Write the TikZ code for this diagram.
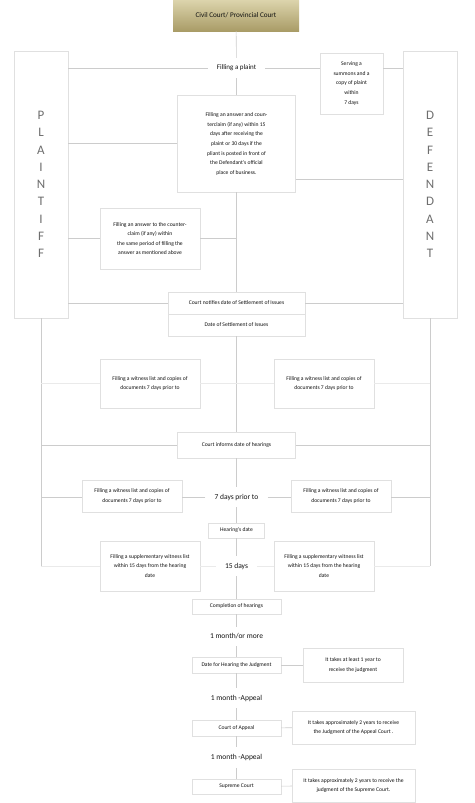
\documentclass[tikz,border=0pt]{standalone}
\usepackage{fontspec}
\setmainfont{Carlito}
\usetikzlibrary{positioning}
\definecolor{linegrey}{HTML}{CCCCCC}
\definecolor{boxgrey}{HTML}{E0E0E0}
\definecolor{faintgrey}{HTML}{EAEAEA}
\definecolor{goldtop}{HTML}{DCD4AC}
\definecolor{goldbottom}{HTML}{A99C67}
\definecolor{textgrey}{HTML}{111111}
\definecolor{lettergrey}{HTML}{6E6E6E}

\begin{document}
\begin{tikzpicture}[x=1pt, y=-1pt,
  stepbox/.style={rectangle, draw=boxgrey, fill=white, align=center, inner sep=1pt, text=textgrey, font=\fontsize{5.6}{9.6}\selectfont},
  gaptext/.style={rectangle, align=center, inner xsep=9pt, inner ysep=7pt, text=textgrey, font=\fontsize{7.5}{9}\selectfont},
  party/.style={rectangle, draw=boxgrey, fill=white, align=center, text=lettergrey, font=\fontsize{13}{17.3}\selectfont},
  link/.style={draw=linegrey, line width=0.6pt},
  faintlink/.style={draw=faintgrey, line width=0.6pt}]
\useasboundingbox (0,0) rectangle (474,803);

\node[stepbox, minimum width=126pt, minimum height=31pt, draw=none, top color=goldtop, bottom color=goldbottom, font=\fontsize{7.2}{9}\selectfont] (civil) at (236,15.5) {Civil Court/ Provincial Court};
\node[party, minimum width=54pt, minimum height=267pt] (plaintiff) at (41,184.5) {P\\L\\A\\I\\N\\T\\I\\F\\F};
\node[party, minimum width=54pt, minimum height=267pt] (defendant) at (430,184.5) {D\\E\\F\\E\\N\\D\\A\\N\\T};

\node[gaptext, font=\fontsize{7}{9}\selectfont] (plaint) at (236.5,68) {Filling a plaint};
\node[stepbox, minimum width=63pt, minimum height=61pt] (summons) at (351.5,83.5) {Serving a\\summons and a\\copy of plaint\\within\\7 days};
\node[stepbox, minimum width=118pt, minimum height=97pt] (answer) at (236.5,143.5) {\raisebox{-6pt}{\begin{tabular}{@{}c@{}}Filling an answer and coun-\\terclaim (if any) within 15\\days after receiving the\\plaint or 30 days if the\\pliant is posted in front of\\the Defendant's official\\place of business.\end{tabular}}};
\node[stepbox, minimum width=100pt, minimum height=61pt] (counter) at (150,238.5) {Filling an answer to the counter-\\claim (if any) within\\the same period of filling the\\answer as mentioned above};
\node[stepbox, minimum width=137pt, minimum height=22pt] (notify) at (236.5,303) {Court notifies date of Settlement of Issues};
\node[stepbox, minimum width=137pt, minimum height=22pt] (settle) at (236.5,325) {Date of Settlement of Issues};

\node[stepbox, minimum width=100pt, minimum height=49pt] (witnessleft) at (150,383.5) {Filling a witness list and copies of\\documents 7 days prior to};
\node[stepbox, minimum width=100pt, minimum height=49pt] (witnessright) at (324,383.5) {Filling a witness list and copies of\\documents 7 days prior to};
\node[stepbox, minimum width=118pt, minimum height=26pt] (inform) at (236.5,445) {Court informs date of hearings};

\node[gaptext] (prior) at (236.5,497) {7 days prior to};
\node[stepbox, minimum width=100pt, minimum height=32pt] (listleft) at (132,496) {Filling a witness list and copies of\\documents 7 days prior to};
\node[stepbox, minimum width=100pt, minimum height=32pt] (listright) at (341,496) {Filling a witness list and copies of\\documents 7 days prior to};
\node[stepbox, minimum width=56pt, minimum height=15pt] (hearing) at (236.5,530.5) {Hearing's date};

\node[gaptext] (fifteen) at (236.5,566) {15 days};
\node[stepbox, minimum width=100pt, minimum height=50pt] (suppleft) at (150,566) {Filling a supplementary witness list\\within 15 days from the hearing\\date};
\node[stepbox, minimum width=100pt, minimum height=50pt] (suppright) at (324,566) {Filling a supplementary witness list\\within 15 days from the hearing\\date};
\node[stepbox, minimum width=89pt, minimum height=15pt] (complete) at (236.5,606.5) {Completion of hearings};

\node[gaptext] (month) at (236.5,636.5) {1 month/or more};
\node[stepbox, minimum width=89pt, minimum height=16pt] (judgment) at (236.5,665) {Date for Hearing the Judgment};
\node[stepbox, minimum width=100pt, minimum height=34pt] (yearnote) at (353,665) {It takes at least 1 year to\\receive the judgment};

\node[gaptext] (appealone) at (236.5,698) {1 month -Appeal};
\node[stepbox, minimum width=89pt, minimum height=16pt] (appealcourt) at (236.5,728) {Court of Appeal};
\node[stepbox, minimum width=123pt, minimum height=33pt] (appealnote) at (353.5,727.5) {It takes approximately 2 years to receive\\the Judgment of the Appeal Court .};

\node[gaptext] (appealtwo) at (236.5,757.5) {1 month -Appeal};
\node[stepbox, minimum width=89pt, minimum height=15pt] (supreme) at (236.5,786.5) {Supreme Court};
\node[stepbox, minimum width=123pt, minimum height=33pt] (supremenote) at (353.5,785.5) {It takes approximately 2 years to receive the\\judgment of the Supreme Court.};

\draw[link] (civil) -- (plaint);
\draw[link] (plaint) -- (answer);
\draw[link] (plaint.west) -- (plaint.west -| plaintiff.east);
\draw[link] (plaint.east) -- (plaint.east -| summons.west);
\draw[link] (plaint.east -| summons.east) -- (plaint.east -| defendant.west);
\draw[link] (answer.west) -- (answer.west -| plaintiff.east);
\draw[link] ([yshift=13pt]answer.south east) -- ([yshift=13pt]answer.south east -| defendant.west);
\draw[link] (answer) -- (notify);
\draw[link] (counter.west) -- (counter.west -| plaintiff.east);
\draw[link] (counter.east) -- (counter.east -| answer.south);
\draw[link] (notify.west) -- (notify.west -| plaintiff.east);
\draw[link] (notify.east) -- (notify.east -| defendant.west);

\draw[link] (settle) -- (inform);
\draw[link] (plaintiff.south) -- (plaintiff.south |- suppleft);
\draw[link] (defendant.south) -- (defendant.south |- suppright);
\draw[faintlink] (witnessleft.west) -- (witnessleft.west -| plaintiff.south);
\draw[faintlink] (witnessleft.east) -- (witnessright.west);
\draw[faintlink] (witnessright.east) -- (witnessright.east -| defendant.south);
\draw[link] (inform.west) -- (inform.west -| plaintiff.south);
\draw[link] (inform.east) -- (inform.east -| defendant.south);

\draw[link] (inform) -- (prior);
\draw[link] (prior) -- (hearing);
\draw[link] (prior.west) -- (prior.west -| listleft.east);
\draw[link] (prior.west -| listleft.west) -- (prior.west -| plaintiff.south);
\draw[link] (prior.east) -- (prior.east -| listright.west);
\draw[link] (prior.east -| listright.east) -- (prior.east -| defendant.south);

\draw[link] (hearing) -- (fifteen);
\draw[faintlink] (fifteen.west) -- (suppleft.east);
\draw[faintlink] (suppleft.west) -- (suppleft.west -| plaintiff.south);
\draw[faintlink] (fifteen.east) -- (suppright.west);
\draw[faintlink] (suppright.east) -- (suppright.east -| defendant.south);
\draw[link] (fifteen) -- (complete);

\draw[link] (complete) -- (month);
\draw[link] (month) -- (judgment);
\draw[link] (judgment) -- (yearnote);
\draw[link] (judgment) -- (appealone);
\draw[link] (appealone) -- (appealcourt);
\draw[link] (appealcourt) -- (appealnote);
\draw[link] (appealcourt) -- (appealtwo);
\draw[link] (appealtwo) -- (supreme);
\draw[link] (supreme) -- (supremenote);
\end{tikzpicture}
\end{document}
